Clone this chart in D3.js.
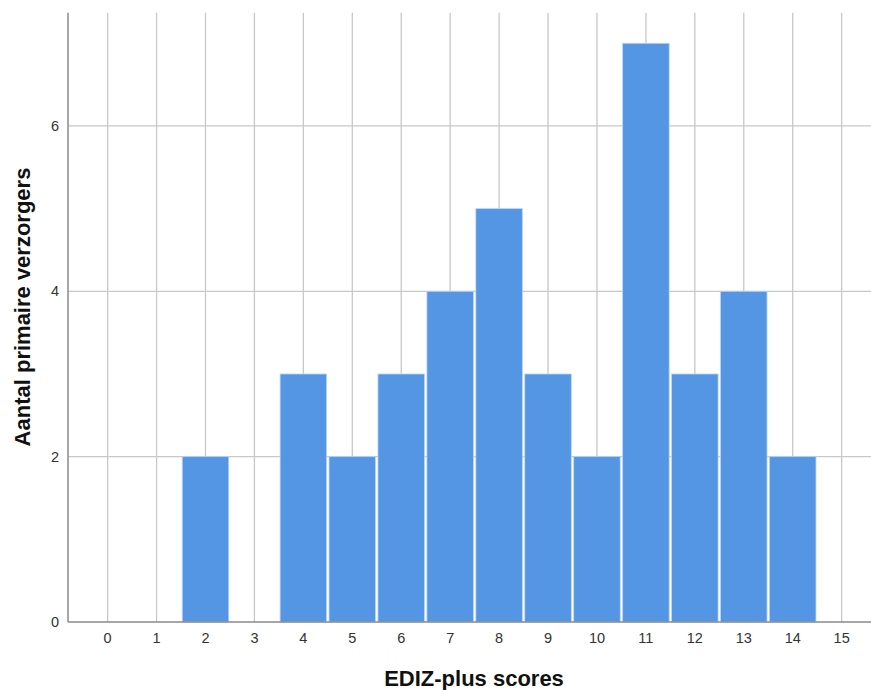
<!DOCTYPE html>
<html>
<head>
<meta charset="utf-8">
<script src="https://cdn.jsdelivr.net/npm/d3@7/dist/d3.min.js"></script>
<style>
html,body{margin:0;padding:0;background:#fff;}
svg{display:block;font-family:"Liberation Sans",Arial,sans-serif;}
</style>
</head>
<body>
<svg id="chart" width="871" height="690"></svg>
<script>
const scores = [0,1,2,3,4,5,6,7,8,9,10,11,12,13,14,15];
const counts = [0,0,2,0,3,2,3,4,5,3,2,7,3,4,2,0];
const yTicks = [0,2,4,6];
const xTitle = "EDIZ-plus scores";
const yTitle = "Aantal primaire verzorgers";

const svg = d3.select("#chart");
const pLeft = 68, pRight = 871, pTop = 12.7, pBottom = 622;

const x = d3.scaleLinear().domain([-0.81, 15.6]).range([pLeft, pRight]);
const y = d3.scaleLinear().domain([0, 7.37]).range([pBottom, pTop]);

// gridlines
const g = svg.append("g");
g.selectAll("line.vg").data(scores).enter().append("line")
  .attr("x1", d => x(d)).attr("x2", d => x(d))
  .attr("y1", pTop).attr("y2", pBottom)
  .attr("stroke", "#c8c8c8").attr("stroke-width", 1.3);
g.selectAll("line.hg").data(yTicks.filter(d => d > 0)).enter().append("line")
  .attr("x1", pLeft).attr("x2", pRight)
  .attr("y1", d => y(d)).attr("y2", d => y(d))
  .attr("stroke", "#c8c8c8").attr("stroke-width", 1.3);

// bars
const step = x(1) - x(0);
svg.append("g").selectAll("rect").data(scores.map((s, i) => ({s, c: counts[i]})).filter(d => d.c > 0))
  .enter().append("rect")
  .attr("x", d => x(d.s - 0.5) + 1.2)
  .attr("width", step - 2.4)
  .attr("y", d => y(d.c))
  .attr("height", d => y(0) - y(d.c))
  .attr("fill", "#5596e4")
  .attr("stroke", "#b9d6f5")
  .attr("stroke-width", 0.8);

// axes lines
svg.append("line").attr("x1", pLeft).attr("x2", pLeft).attr("y1", pTop).attr("y2", pBottom)
  .attr("stroke", "#8a8a8a").attr("stroke-width", 1.5);
svg.append("line").attr("x1", pLeft).attr("x2", pRight).attr("y1", pBottom).attr("y2", pBottom)
  .attr("stroke", "#8a8a8a").attr("stroke-width", 1.5);

// tick labels
svg.append("g").selectAll("text").data(yTicks).enter().append("text")
  .attr("x", 59).attr("y", d => y(d)).attr("dy", "0.35em")
  .attr("text-anchor", "end").attr("font-size", 14.5).attr("fill", "#333")
  .text(d => d);
svg.append("g").selectAll("text").data(scores).enter().append("text")
  .attr("x", d => x(d)).attr("y", 638).attr("dy", "0.35em")
  .attr("text-anchor", "middle").attr("font-size", 14.5).attr("fill", "#333")
  .text(d => d);

// titles
svg.append("text").attr("x", 474).attr("y", 686)
  .attr("text-anchor", "middle").attr("font-size", 22).attr("font-weight", "bold").attr("fill", "#111")
  .text(xTitle);
svg.append("text").attr("transform", "translate(30,307) rotate(-90)")
  .attr("text-anchor", "middle").attr("font-size", 22).attr("font-weight", "bold").attr("fill", "#111")
  .text(yTitle);
</script>
</body>
</html>
